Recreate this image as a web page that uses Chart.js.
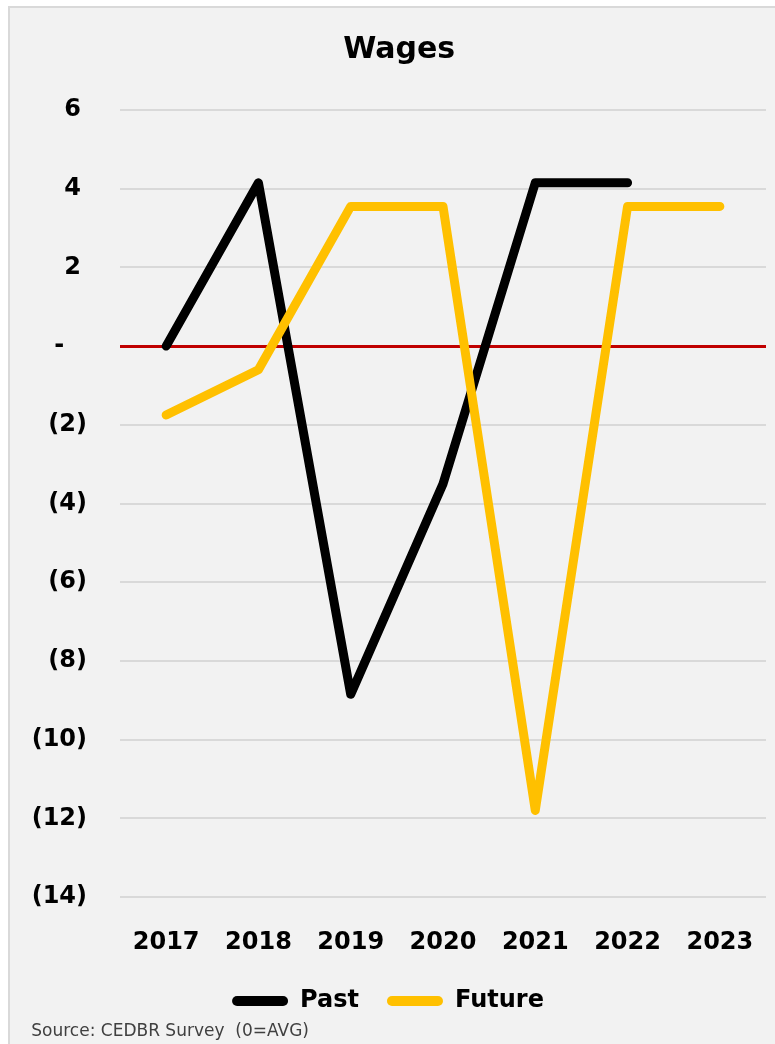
<!DOCTYPE html>
<html>
<head>
<meta charset="utf-8">
<script src="https://cdn.jsdelivr.net/npm/chart.js@4/dist/chart.umd.min.js"></script>
<style>
    body { margin: 0; background: #ffffff; }
    #frame {
        position: absolute; left: 8px; top: 6px; width: 767px; height: 1038px;
        border-left: 2px solid #d9d9d9; border-top: 2px solid #d9d9d9;
        background: #f2f2f2; box-sizing: border-box;
    }
    #wrap { position: absolute; left: 0; top: 0; width: 765px; height: 1036px; }
</style>
</head>
<body>
<div id="frame"><div id="wrap"><canvas id="wages"></canvas></div></div>
<script>
var years = ['2017', '2018', '2019', '2020', '2021', '2022', '2023'];
var past = [0, 4.15, -8.85, -3.5, 4.15, 4.15, null];
var future = [-1.75, -0.6, 3.55, 3.55, -11.8, 3.55, 3.55];
var yTicks = [6, 4, 2, 0, -2, -4, -6, -8, -10, -12, -14];

// accounting style labels: (2), -, 6
function acct(v) {
    if (v > 0) return v + '\u2005';
    if (v < 0) return '(' + (-v) + ')';
    return '-\u2007\u2005';
}

var ct = document.getElementById('wages').getContext('2d');
var chart = new Chart(ct, {
    type: 'line',
    data: {
        labels: years,
        datasets: [{
            label: 'Past',
            data: past,
            borderColor: '#000000',
            backgroundColor: '#000000',
            borderWidth: 9,
            order: 2
        }, {
            label: 'Future',
            data: future,
            borderColor: '#ffc000',
            backgroundColor: '#ffc000',
            borderWidth: 9,
            order: 1
        }]
    },
    options: {
        responsive: true,
        maintainAspectRatio: false,
        animation: false,
        layout: { padding: { top: 0, right: 9, bottom: 0, left: 0 } },
        elements: {
            point: { radius: 0, hoverRadius: 0 },
            line: { tension: 0, borderCapStyle: 'round', borderJoinStyle: 'round' }
        },
        scales: {
            x: {
                offset: true,
                // invisible tick marks push the labels down without adding side padding
                grid: { drawOnChartArea: false, drawTicks: true, tickLength: 31, color: 'rgba(0,0,0,0)' },
                border: { display: false },
                ticks: { padding: 0, color: '#000', font: { family: 'DejaVu Sans', size: 24, weight: 'bold' } },
                afterFit: function(s) { s.height = 64; }
            },
            y: {
                min: -14,
                max: 6,
                afterBuildTicks: function(s) { s.ticks = yTicks.map(function(v) { return { value: v }; }); },
                grid: {
                    drawTicks: false,
                    color: function(c) { return c.tick && c.tick.value === 0 ? '#c00000' : '#d9d9d9'; },
                    lineWidth: function(c) { return c.tick && c.tick.value === 0 ? 3 : 2; }
                },
                border: { display: false },
                ticks: {
                    padding: 33,
                    color: '#000',
                    font: { family: 'DejaVu Sans', size: 24, weight: 'bold' },
                    callback: function(v) { return acct(v); }
                },
                afterFit: function(s) { s.width = 110; }
            }
        },
        plugins: {
            title: {
                display: true,
                text: '\u2002\u2005Wages',
                color: '#000',
                font: { family: 'DejaVu Sans', size: 30, weight: 'bold' },
                padding: { top: 24, bottom: 42 }
            },
            subtitle: {
                display: true,
                position: 'bottom',
                align: 'start',
                text: '\u2003\u2005Source: CEDBR Survey  (0=AVG)',
                color: '#404040',
                font: { family: 'DejaVu Sans', size: 17, lineHeight: 1 },
                padding: { top: 0, bottom: 4 }
            },
            legend: {
                position: 'bottom',
                labels: {
                    boxWidth: 56,
                    boxHeight: 10,
                    useBorderRadius: true,
                    borderRadius: 5,
                    padding: 28,
                    color: '#000',
                    font: { family: 'DejaVu Sans', size: 24, weight: 'bold' },
                    sort: function(a, b) { return a.datasetIndex - b.datasetIndex; },
                    generateLabels: function(c) {
                        var items = Chart.defaults.plugins.legend.labels.generateLabels(c);
                        items.forEach(function(it) { it.lineWidth = 0; });
                        return items;
                    }
                }
            },
            tooltip: { enabled: false }
        }
    }
});
</script>
</body>
</html>
